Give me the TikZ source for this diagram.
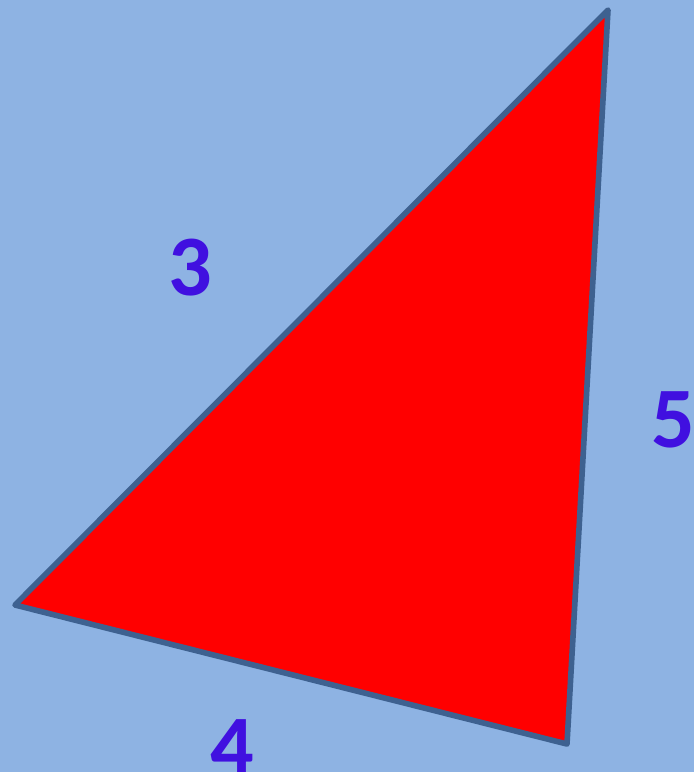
\documentclass[tikz,border=0pt]{standalone}
\usepackage{fontspec}
\setmainfont{Carlito}
\usepackage{xcolor}
\usepackage{tikz}
\usetikzlibrary{positioning}

\definecolor{bgblue}{HTML}{8EB3E3}
\definecolor{edgeblue}{HTML}{3E6190}
\definecolor{numblue}{HTML}{4010E0}

\begin{document}
\begin{tikzpicture}[x=0.02cm,y=-0.02cm,
        side/.style={draw=edgeblue,line width=3.2pt,line join=round,fill=red},
        num/.style={font=\fontsize{49}{49}\selectfont\bfseries,text=numblue,inner sep=0pt}]
        \fill[bgblue] (0,0) rectangle (694,772);
        \clip (0,0) rectangle (694,772);
        \coordinate (top) at (608,10);
        \coordinate (left) at (15,605);
        \coordinate (bottom) at (567,744);
        \draw[side] (top) -- (left) -- (bottom) -- cycle;
        \node[num] (a) at (190,268) {3};
        \node[num] (c) at (673,420) {5};
        \node[num] (b) at (232,748) {4};
\end{tikzpicture}
\end{document}
